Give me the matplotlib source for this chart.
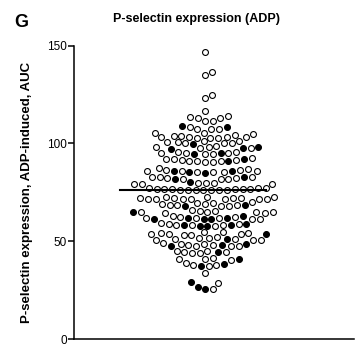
import numpy as np
import matplotlib
matplotlib.use("Agg")
import matplotlib.pyplot as plt

plt.rcParams['font.family'] = ['Liberation Sans', 'DejaVu Sans']

# values, row by row (top to bottom)
open_values = [
    146.5,
    136.5, 135,
    124.5, 123,
    116.5,
    113.8, 112.8, 111.5, 111.5, 112.8, 113.3,
    108.2, 107.2, 107.2, 107.2,
    105.5, 104.5, 104, 103.5, 103.2, 103, 103, 103, 103.2, 103.5, 104, 104.8, 105.5,
    101, 100.5, 100, 100, 100, 100.5, 101,
    98.5, 98, 97.5, 97.5, 98,
    95.5, 95, 94.5, 94.5, 95, 95, 95.5,
    92, 91.5, 91, 91, 90.5, 90.5, 91, 91.5, 92, 92.5,
    86.5, 86, 85.5, 85.5, 85.5, 86, 86, 86.5, 87, 87.5,
    83, 82.5, 82, 82, 82, 82.5, 83, 83,
    80, 79.5, 79, 79.5, 80, 80,
    77, 76.8, 76.5, 76.5, 76.3, 76.3, 76.2, 76.2, 76.2, 76.3, 76.3, 76.5, 76.5, 76.8, 77, 77.2,
    72.5, 72.2, 72, 71.8, 71.8, 71.5, 71.5, 71.5, 71.5, 71.8, 72, 72.2, 72.5, 72.8,
    69.5, 69, 68.5, 68.5, 68, 68, 68.5, 69, 69.5, 70,
    65.5, 65, 64.8, 64.5, 64.5, 64.8, 65, 65.5, 66,
    62.5, 62, 61.8, 61.5, 61.5, 62, 62.5, 63,
    59.5, 59, 58.5, 58.5, 58, 58.5, 59,
    54.5, 54, 53.5, 53.5, 53, 53, 53.5, 54, 54.5,
    51.5, 51, 50.8, 50.5, 50.5, 51, 51.5, 52,
    48.5, 48, 47.5, 47.5, 47.5, 48, 48.5, 49,
    45, 44.5, 44, 44, 44.5, 45,
    41.5, 41, 40.5, 41,
    39, 38, 37.5, 38,
    34,
    25.6, 28.7,
]
filled_values = [
    108.2, 108.7,
    99.5,
    98, 97.5, 97,
    95, 94.5,
    91, 92,
    86, 85.5, 85, 86,
    82, 83,
    80.5,
    68.5, 68,
    65,
    62, 61.5, 61.5, 61.5, 62, 63,
    58.5, 58, 58, 58.5, 59,
    53.5,
    51,
    48, 47.5, 48.5,
    44.5,
    41,
    38.5, 37.5,
    29, 26.7, 25.6,
]
median_value = 76
yticks = [0, 50, 100, 150]

fig = plt.figure(figsize=(3.55, 3.46), dpi=100)
ax = fig.add_axes([0.2085, 0.0202, 0.7885, 0.848])
ax.set_xlim(0, 1)
ax.set_ylim(0, 150)

# simple beeswarm, worked out in pixels
values = np.array(open_values + filled_values, dtype=float)
filled = np.array([False] * len(open_values) + [True] * len(filled_values))
center = 0.468
ax_w = 0.7885 * 355
ax_h = 0.848 * 346
ypx = values * ax_h / 150
D = 7.8
xpx = np.zeros(len(values))
placed = []
for i in np.argsort(values):
    y = ypx[i]
    near = [j for j in placed if abs(ypx[j] - y) < D]
    cands = [0.0]
    for j in near:
        dx = np.sqrt(D ** 2 - (ypx[j] - y) ** 2)
        cands += [xpx[j] + dx, xpx[j] - dx]
    cands.sort(key=abs)
    for c in cands:
        if all((xpx[j] - c) ** 2 + (ypx[j] - y) ** 2 >= D ** 2 - 1e-6 for j in near):
            xpx[i] = c
            break
    placed.append(i)
xs = center + xpx / ax_w

ax.scatter(xs[~filled], values[~filled], s=18, facecolor='white',
           edgecolor='black', linewidth=0.8, zorder=3, clip_on=False)
ax.scatter(xs[filled], values[filled], s=18, facecolor='black',
           edgecolor='black', linewidth=0.8, zorder=3, clip_on=False)

# median line
ax.plot([0.165, 0.686], [median_value, median_value], color='black', lw=1.5, zorder=4)

for s in ['top', 'right']:
    ax.spines[s].set_visible(False)
for s in ['left', 'bottom']:
    ax.spines[s].set_linewidth(1.1)
ax.spines['left'].set_bounds(0, 150)
ax.set_yticks(yticks)
ax.set_xticks([])
ax.tick_params(axis='y', length=4, width=1.1, labelsize=8.5, pad=1)
ax.set_ylabel('P-selectin expression, ADP-induced, AUC', fontsize=9.5, fontweight='bold')
ax.yaxis.set_label_coords(-0.146, 0.5)

fig.text(0.554, 0.945, 'P-selectin expression (ADP)', ha='center', va='center',
         fontsize=9, fontweight='bold')
fig.text(0.06, 0.935, 'G', ha='center', va='center', fontsize=13, fontweight='bold')

fig.savefig('out.png', dpi=100)
